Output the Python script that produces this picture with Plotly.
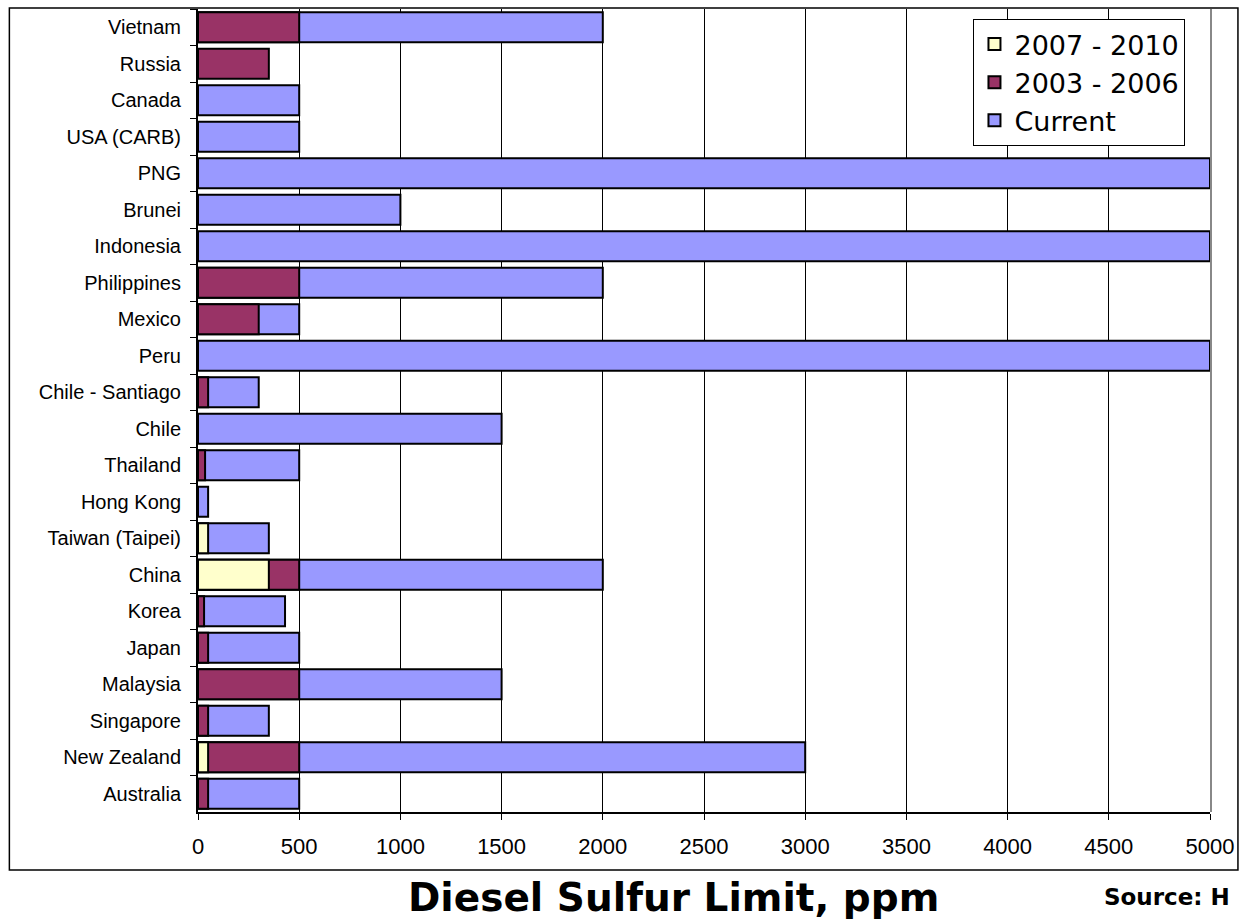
import plotly.graph_objects as go

countries = ["Vietnam", "Russia", "Canada", "USA (CARB)", "PNG", "Brunei", "Indonesia",
             "Philippines", "Mexico", "Peru", "Chile - Santiago", "Chile", "Thailand",
             "Hong Kong", "Taiwan (Taipei)", "China", "Korea", "Japan", "Malaysia",
             "Singapore", "New Zealand", "Australia"]
current = [2000, None, 500, 500, 5000, 1000, 5000, 2000, 500, 5000, 300, 1500, 500,
           50, 350, 2000, 430, 500, 1500, 350, 3000, 500]
y2003_2006 = [500, 350, None, None, None, None, None, 500, 300, None, 50, None, 35,
              None, None, 500, 30, 50, 500, 50, 500, 50]
y2007_2010 = [None, None, None, None, None, None, None, None, None, None, None, None, None,
              None, 50, 350, None, None, None, None, 50, None]
x_ticks = [0, 500, 1000, 1500, 2000, 2500, 3000, 3500, 4000, 4500, 5000]

W, H = 1243, 920
L, R, T, B = 198, 1212, 9, 812
pw, ph = R - L, B - T

fig = go.Figure()
for name, vals, col in [("Current", current, "#9999FF"),
                        ("2003 - 2006", y2003_2006, "#993366"),
                        ("2007 - 2010", y2007_2010, "#FFFFCC")]:
    fig.add_trace(go.Bar(y=countries, x=vals, name=name, orientation="h",
                         marker=dict(color=col, line=dict(color="black", width=2)),
                         width=0.82))

def px(x):
    return (x - L) / pw

def py(y):
    return 1 - (y - T) / ph

fig.update_layout(
    width=W, height=H,
    margin=dict(l=L, r=W - R, t=T, b=H - B),
    barmode="overlay",
    plot_bgcolor="white", paper_bgcolor="white",
    font=dict(family="Liberation Sans, Arial, sans-serif", color="black"),
    showlegend=True,
    legend=dict(x=px(975), y=py(19), xanchor="left", yanchor="top",
                traceorder="reversed", bgcolor="white", bordercolor="black",
                borderwidth=1, font=dict(size=27, family="DejaVu Sans"),
                tracegroupgap=0),
    xaxis=dict(range=[0, 5000], tickvals=x_ticks, showgrid=True,
               gridcolor="black", gridwidth=1, zeroline=False,
               ticks="outside", ticklen=6, tickcolor="black",
               tickfont=dict(size=22), ticklabelstandoff=8,
               showline=True, linecolor="black", linewidth=1.5, mirror=False),
    yaxis=dict(autorange="reversed", type="category", ticks="outside",
               tickson="boundaries", ticklen=6, tickcolor="black",
               tickfont=dict(size=20), showline=True, linecolor="black",
               linewidth=2, showgrid=False, ticklabelstandoff=11),
    shapes=[
        dict(type="rect", xref="paper", yref="paper",
             x0=px(9), x1=px(1240), y0=py(870), y1=py(8),
             line=dict(color="black", width=1.5), fillcolor="rgba(0,0,0,0)"),
        dict(type="line", xref="paper", yref="paper",
             x0=px(1213), x1=px(1213), y0=0, y1=1,
             line=dict(color="#888888", width=2)),
    ],
    annotations=[
        dict(text="<b>Diesel Sulfur Limit, ppm</b>", xref="paper", yref="paper",
             x=px(674), y=py(897), xanchor="center", yanchor="middle",
             showarrow=False, font=dict(family="DejaVu Sans", size=39)),
        dict(text="<b>Source: H</b>", xref="paper", yref="paper",
             x=px(1104), y=py(897), xanchor="left", yanchor="middle",
             showarrow=False, font=dict(family="DejaVu Sans", size=23)),
    ],
)

fig.write_html("out.html", config={"displayModeBar": False},
               post_script="document.body.style.margin='0';document.body.style.overflow='hidden';")
